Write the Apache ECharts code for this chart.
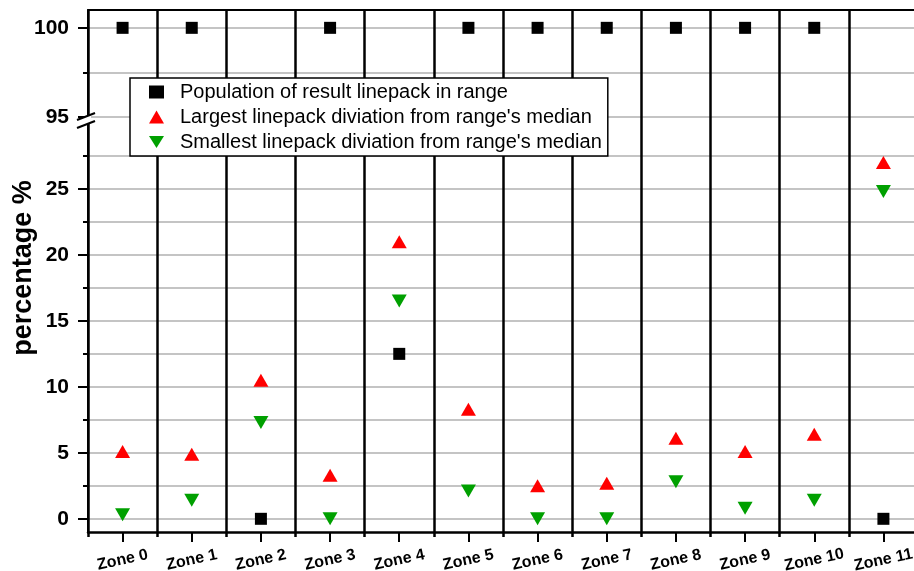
<!DOCTYPE html>
<html>
<head>
<meta charset="utf-8">
<script src="https://cdn.jsdelivr.net/npm/echarts@6/dist/echarts.min.js"></script>
<style>html,body{margin:0;padding:0;background:#fff;}#c{width:914px;height:571px;}</style>
</head>
<body>
<div id="c"></div>
<script>
const categories = ['Zone 0','Zone 1','Zone 2','Zone 3','Zone 4','Zone 5','Zone 6','Zone 7','Zone 8','Zone 9','Zone 10','Zone 11'];
const population = [100, 100, 0, 100, 12.5, 100, 100, 100, 100, 100, 100, 0];
const largest = [5.1, 4.9, 10.5, 3.3, 21.0, 8.3, 2.5, 2.7, 6.1, 5.1, 6.4, 27.0];
const smallest = [0.3, 1.4, 7.3, 0.0, 16.5, 2.1, 0.0, 0.0, 2.8, 0.8, 1.4, 24.8];
const lowerMajor = [0, 5, 10, 15, 20, 25];
const lowerMinor = [2.5, 7.5, 12.5, 17.5, 22.5, 27.5];
const upperMajor = [95, 100];
const upperMinor = [97.5];
const BREAK = 95;

const names = ['Population of result linepack in range', "Largest linepack diviation from range's median", "Smallest linepack diviation from range's median"];
const FONT = 'Liberation Sans, Arial, sans-serif';
const GRIDC = '#c4c4c4';

const popUpper = population.map(v => v >= BREAK ? v : '-');
const popLower = population.map(v => v < BREAK ? v : '-');

function yMajor(grid, min, max, vals) {
  return {
    type: 'value', gridIndex: grid, min: min, max: max, position: 'left',
    axisLine: {show: true, onZero: false, lineStyle: {color: '#000', width: 2}},
    axisTick: {show: true, length: 10, inside: false, customValues: vals, lineStyle: {color: '#000', width: 2}},
    axisLabel: {customValues: vals, fontSize: 21, fontWeight: 'bold', color: '#000', fontFamily: FONT, margin: 19},
    splitLine: {show: true, lineStyle: {color: GRIDC, width: 2}}
  };
}
function yMinor(grid, min, max, vals) {
  return {
    type: 'value', gridIndex: grid, min: min, max: max, position: 'left',
    axisLine: {show: false, onZero: false},
    axisTick: {show: true, length: 5, customValues: vals, lineStyle: {color: '#000', width: 2}},
    axisLabel: {show: false, customValues: vals},
    splitLine: {show: true, lineStyle: {color: GRIDC, width: 2}}
  };
}

const option = {
  animation: false,
  backgroundColor: '#fff',
  grid: [
    {left: 88, top: 10, width: 830, height: 107, containLabel: false, outerBoundsMode: 'none'},
    {left: 88, top: 117, width: 830, height: 415, containLabel: false, outerBoundsMode: 'none'}
  ],
  xAxis: [
    {type: 'category', gridIndex: 0, data: categories, position: 'top', boundaryGap: true,
     axisLine: {show: true, onZero: false, lineStyle: {color: '#000', width: 2}}, axisTick: {show: false}, axisLabel: {show: false},
     splitLine: {show: true, interval: 0, lineStyle: {color: '#000', width: 2.5}}},
    {type: 'category', gridIndex: 1, data: categories, position: 'bottom', boundaryGap: true,
     axisLine: {show: true, onZero: false, lineStyle: {color: '#000', width: 2.5}},
     axisTick: {show: true, alignWithLabel: true, interval: 0, length: 10, lineStyle: {color: '#000', width: 2}},
     axisLabel: {interval: 0, rotate: 12, align: 'center', verticalAlign: 'middle', margin: 28, fontSize: 16, fontWeight: 'bold', color: '#000', fontFamily: FONT},
     splitLine: {show: true, interval: 0, lineStyle: {color: '#000', width: 2.5}}},
    {type: 'category', gridIndex: 1, data: categories, position: 'bottom', boundaryGap: true,
     axisLine: {show: false, onZero: false},
     axisTick: {show: true, alignWithLabel: false, interval: 0, length: 5, lineStyle: {color: '#000', width: 2.5}},
     axisLabel: {show: false}, splitLine: {show: false}}
  ],
  yAxis: [
    yMajor(0, 95, 101, upperMajor),
    yMinor(0, 95, 101, upperMinor),
    yMajor(1, -1, 30.45, lowerMajor),
    yMinor(1, -1, 30.45, lowerMinor)
  ],
  legend: {
    orient: 'vertical', left: 130, top: 78,
    padding: [4, 6, 4, 19],
    itemGap: 5, itemWidth: 15, itemHeight: 13,
    borderColor: '#000', borderWidth: 1.5, backgroundColor: '#fff',
    textStyle: {fontSize: 20, color: '#000', fontFamily: FONT, padding: [0, 0, 0, 11]},
    data: names
  },
  series: [
    {name: names[0], type: 'scatter', xAxisIndex: 0, yAxisIndex: 0, data: popUpper, symbol: 'rect', symbolSize: 12, itemStyle: {color: '#000', opacity: 1}, z: 5},
    {name: names[0], type: 'scatter', xAxisIndex: 1, yAxisIndex: 2, data: popLower, symbol: 'rect', symbolSize: 12, itemStyle: {color: '#000', opacity: 1}, z: 5},
    {name: names[1], type: 'scatter', xAxisIndex: 1, yAxisIndex: 2, data: largest, symbol: 'triangle', symbolSize: [15, 13], itemStyle: {color: '#ff0000', opacity: 1}, z: 5},
    {name: names[2], type: 'scatter', xAxisIndex: 1, yAxisIndex: 2, data: smallest, symbol: 'path://M0,0 L10,0 L5,8 Z', symbolSize: [15, 13], itemStyle: {color: '#00a000', opacity: 1}, z: 5}
  ],
  graphic: [
    {type: 'text', x: 24, y: 268, rotation: Math.PI / 2, z: 10,
     style: {text: 'percentage %', fontSize: 27, fontWeight: 'bold', fontFamily: FONT, fill: '#000', align: 'center', verticalAlign: 'middle'}},
    {type: 'rect', shape: {x: 85, y: 116, width: 6, height: 7}, style: {fill: '#fff'}, z: 10},
    {type: 'line', shape: {x1: 77, y1: 120, x2: 95, y2: 113}, style: {stroke: '#000', lineWidth: 2}, z: 11},
    {type: 'line', shape: {x1: 77, y1: 128, x2: 95, y2: 121}, style: {stroke: '#000', lineWidth: 2}, z: 11}
  ]
};
const chart = echarts.init(document.getElementById('c'), null, {renderer: 'canvas'});
chart.setOption(option);
</script>
</body>
</html>
